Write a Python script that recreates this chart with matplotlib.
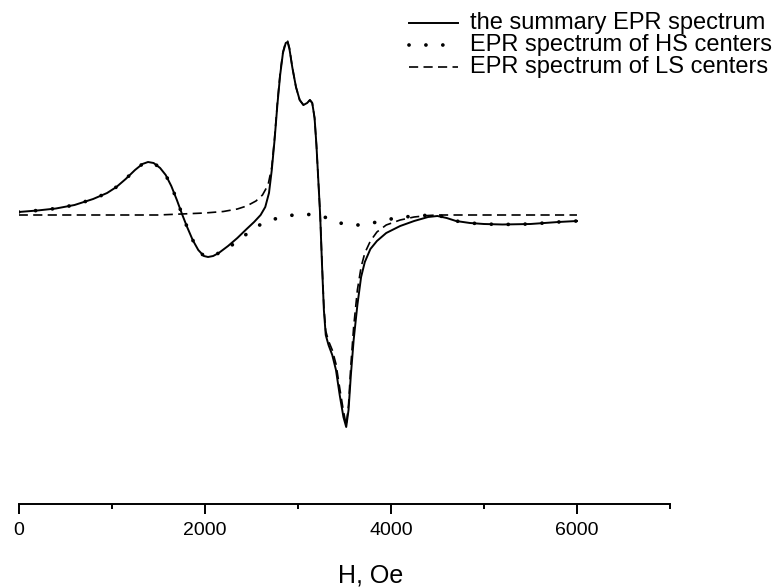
import matplotlib
matplotlib.use("Agg")
import matplotlib.pyplot as plt
from matplotlib.lines import Line2D

plt.rcParams['font.family'] = ['Liberation Sans', 'DejaVu Sans']

# magnetic field, Oe / intensity (arb. units) of the summary spectrum
h_sum = [0, 200, 400, 600, 800, 950, 1050, 1150, 1250, 1330, 1390, 1450, 1520,
         1580, 1640, 1700, 1755, 1810, 1870, 1930, 1990, 2035, 2090, 2150, 2250,
         2350, 2450, 2530, 2600, 2650, 2690, 2720, 2750, 2780, 2810, 2840, 2870,
         2890, 2910, 2940, 2980, 3020, 3060, 3100, 3130, 3155, 3180, 3200, 3220,
         3240, 3260, 3280, 3300, 3330, 3370, 3410, 3450, 3490, 3520, 3545, 3570,
         3600, 3640, 3680, 3720, 3780, 3850, 3950, 4100, 4250, 4400, 4500, 4600,
         4700, 4850, 5000, 5200, 5500, 5800, 6000]
i_sum = [3, 4.5, 6.5, 10, 16, 22, 28, 36, 45, 51, 53, 52, 47,
         40, 29, 15, 1, -12, -25, -35, -41, -42, -41, -38, -31,
         -23, -14, -7, 0, 8, 22, 45, 75, 110, 140, 162, 172,
         173, 166, 148, 128, 115, 110, 112, 115, 112, 97, 70, 35,
         0, -50, -95, -120, -130, -140, -155, -180, -202, -212, -195, -160,
         -125, -90, -62, -47, -34, -26, -18, -11, -6, -2, -1, -3,
         -6, -8, -9, -9.5, -9, -7, -6]

# HS centers
h_hs = [0, 200, 400, 600, 800, 950, 1050, 1150, 1250, 1330, 1390, 1450, 1520,
        1580, 1640, 1700, 1755, 1810, 1870, 1930, 1990, 2035, 2090, 2150, 2250,
        2350, 2450, 2550, 2650, 2750, 2850, 2950, 3050, 3150, 3250, 3350, 3450,
        3550, 3650, 3750, 3850, 3950, 4050, 4200, 4350, 4500, 4600, 4700, 4850,
        5000, 5200, 5500, 5800, 6000]
i_hs = [3, 4.5, 6.5, 10, 16, 22, 28, 36, 45, 51, 53, 52, 47,
        40, 29, 15, 1, -12, -25, -35, -41, -42, -41, -38, -33,
        -26, -19, -12, -7, -4, -2, 0, 0.5, 0.5, -1, -4, -8,
        -9.5, -10, -9, -7, -5, -3, -1.5, -0.5, 0, -3, -6, -8,
        -9, -9.5, -9, -7, -6]

# LS centers
h_ls = [0, 1500, 1750, 2000, 2200, 2350, 2450, 2550, 2620, 2680, 2720, 2750,
        2780, 2810, 2840, 2870, 2890, 2910, 2940, 2980, 3020, 3060, 3100, 3130,
        3155, 3180, 3200, 3220, 3240, 3260, 3280, 3300, 3330, 3370, 3410, 3450,
        3490, 3520, 3545, 3570, 3600, 3640, 3680, 3720, 3780, 3850, 3950, 4100,
        4250, 4400, 4500, 6000]
i_ls = [0, 0, 1, 2, 3.5, 6, 9, 14, 20, 30, 48, 77,
        112, 142, 163, 173, 174, 167, 148, 128, 115, 110, 112, 115,
        112, 97, 70, 35, 1, -48, -92, -116, -126, -135, -149, -173,
        -196, -210, -190, -150, -112, -75, -52, -38, -26, -17, -10, -5,
        -2, -0.5, 0, 0]

labels = ["the summary EPR spectrum", "EPR spectrum of HS centers",
          "EPR spectrum of LS centers"]

W, H = 779, 588
fig = plt.figure(figsize=(W / 100, H / 100), dpi=100)
ax = fig.add_axes([18.7 / W, (H - 504) / H, (670 - 18.7) / W, 504 / H])
ax.set_xlim(0, 7000)
ax.set_ylim(-289, 215)

solid_st = dict(lw=1.4, ls='-', solid_joinstyle='round')
dot_st = dict(lw=2.7, ls=(0, (0.01, 4.5)), dash_capstyle='round')
dash_st = dict(lw=1.2, ls=(0, (5.5, 3.2)))

ax.plot(h_sum, i_sum, color='black', **solid_st)
ax.plot(h_hs, i_hs, color='black', **dot_st)
ax.plot(h_ls, i_ls, color='black', **dash_st)

for s in ['left', 'right', 'top']:
    ax.spines[s].set_visible(False)
ax.spines['bottom'].set_linewidth(1.4)
ax.set_yticks([])
ax.set_xticks([0, 2000, 4000, 6000])
ax.set_xticks([1000, 3000, 5000, 7000], minor=True)
ax.tick_params(axis='x', which='major', length=7.5, width=1.4, pad=5.5,
               labelsize=14)
ax.tick_params(axis='x', which='minor', length=3.8, width=1.4)

fig.text(371 / W, (H - 582) / H, "H, Oe", ha='center', va='baseline',
         fontsize=18)

# legend drawn manually
rows_y = [23, 45, 67]
for yy, lab, st in zip(rows_y, labels, [solid_st, dot_st, dash_st]):
    fy = (H - yy) / H
    fig.add_artist(Line2D([409 / W, 458 / W], [fy, fy], color='black', **st))
    fig.text(470 / W, fy, lab, ha='left', va='center', fontsize=17)

fig.savefig("out.png", dpi=100)
